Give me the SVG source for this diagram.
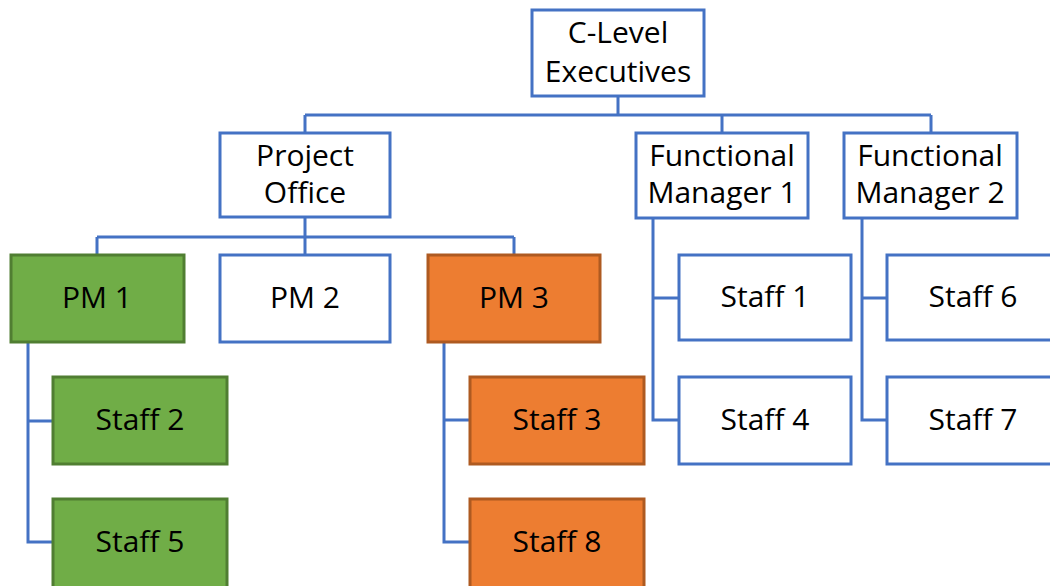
<svg xmlns="http://www.w3.org/2000/svg" width="1050" height="586" viewBox="0 0 1050 586">
  <style>
    .box { fill: #ffffff; stroke: #4472C4; stroke-width: 3; }
    .green { fill: #70AD47; stroke: #507E32; stroke-width: 3; }
    .orange { fill: #ED7D31; stroke: #AE5A21; stroke-width: 3; }
    .link { fill: none; stroke: #4472C4; stroke-width: 3; }
    text { font-family: "Open Sans", "Liberation Sans", sans-serif; font-size: 30px; fill: #000000; text-anchor: middle; }
  </style>
  <rect width="1050" height="586" fill="#ffffff"/>

  <g id="connectors">
    <!-- top level -->
    <path class="link" d="M618 96 V115 M305 115 H931 M305 115 V133 M722 115 V133 M931 115 V133"/>
    <!-- project office to PMs -->
    <path class="link" d="M305 217 V237 M97 237 H514 M97 237 V254 M305 237 V254 M514 237 V254"/>
    <!-- PM 1 staff -->
    <path class="link" d="M28 342 V542 H53 M28 421 H53"/>
    <!-- PM 3 staff -->
    <path class="link" d="M444 342 V542 H470 M444 420 H470"/>
    <!-- functional manager 1 staff -->
    <path class="link" d="M653 218 V420 H679 M653 298 H679"/>
    <!-- functional manager 2 staff -->
    <path class="link" d="M862 218 V420 H887 M862 298 H887"/>
  </g>

  <g id="c-level">
    <rect class="box" x="532" y="10" width="172" height="86"/>
    <text x="618" y="43">C-Level</text>
    <text x="618" y="82">Executives</text>
  </g>

  <g id="project-office">
    <rect class="box" x="220" y="133" width="170" height="84"/>
    <text x="305" y="166">Project</text>
    <text x="305" y="203">Office</text>
  </g>

  <g id="functional-manager-1">
    <rect class="box" x="636" y="133" width="172" height="85"/>
    <text x="722" y="166">Functional</text>
    <text x="722" y="203">Manager 1</text>
  </g>

  <g id="functional-manager-2">
    <rect class="box" x="844" y="133" width="173" height="85"/>
    <text x="930" y="166">Functional</text>
    <text x="930" y="203">Manager 2</text>
  </g>

  <g id="pm-1">
    <rect class="green" x="11" y="255" width="173" height="87"/>
    <text x="97" y="308">PM 1</text>
  </g>

  <g id="pm-2">
    <rect class="box" x="220" y="255" width="170" height="87"/>
    <text x="305" y="308">PM 2</text>
  </g>

  <g id="pm-3">
    <rect class="orange" x="428" y="255" width="172" height="87"/>
    <text x="514" y="308">PM 3</text>
  </g>

  <g id="staff-1">
    <rect class="box" x="679" y="255" width="172" height="85"/>
    <text x="765" y="307">Staff 1</text>
  </g>

  <g id="staff-6">
    <rect class="box" x="887" y="255" width="172" height="85"/>
    <text x="973" y="307">Staff 6</text>
  </g>

  <g id="staff-2">
    <rect class="green" x="53" y="377" width="174" height="87"/>
    <text x="140" y="430">Staff 2</text>
  </g>

  <g id="staff-3">
    <rect class="orange" x="470" y="377" width="174" height="87"/>
    <text x="557" y="430">Staff 3</text>
  </g>

  <g id="staff-4">
    <rect class="box" x="679" y="377" width="172" height="87"/>
    <text x="765" y="430">Staff 4</text>
  </g>

  <g id="staff-7">
    <rect class="box" x="887" y="377" width="172" height="87"/>
    <text x="973" y="430">Staff 7</text>
  </g>

  <g id="staff-5">
    <rect class="green" x="53" y="499" width="174" height="90"/>
    <text x="140" y="552">Staff 5</text>
  </g>

  <g id="staff-8">
    <rect class="orange" x="470" y="499" width="174" height="90"/>
    <text x="557" y="552">Staff 8</text>
  </g>
</svg>
